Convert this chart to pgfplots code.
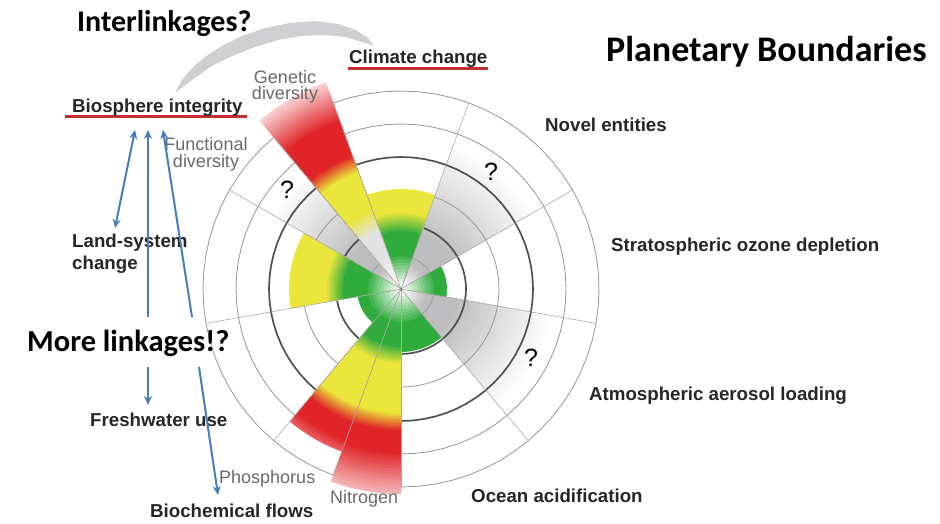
\documentclass[border=0pt]{standalone}
\usepackage{fontspec}
\setmainfont{Liberation Sans}
\newfontfamily\calfont{Carlito}
\usepackage{pgfplots}
\pgfplotsset{compat=1.18}
\usetikzlibrary{arrows.meta}

\definecolor{pbG}{RGB}{48,172,62}
\definecolor{pbY}{RGB}{234,230,60}
\definecolor{pbR}{RGB}{224,36,40}
\definecolor{pbGr}{RGB}{190,190,192}
\colorlet{pbGrL}{pbGr!45!white}
\colorlet{pbRL}{pbR!75!white}
\colorlet{pbRf}{pbR!35!white}
\colorlet{pbRg}{pbR!22!white}
\definecolor{circL}{RGB}{150,150,150}
\definecolor{circD}{RGB}{80,80,80}
\definecolor{spoke}{RGB}{170,170,170}
\definecolor{lbl}{RGB}{38,38,38}
\definecolor{glbl}{RGB}{105,105,105}
\definecolor{ulred}{RGB}{196,48,48}
\definecolor{arrblue}{RGB}{72,125,188}
\definecolor{cresc}{RGB}{208,208,210}

% one filled sector (pie slice) from angle #1 to #2, radius #3, colour #4
\newcommand\pbsect[4]{%
  \gdef\pbcoords{(0,0)}%
  \foreach \j in {0,...,16}{%
    \pgfmathsetmacro\pbang{#1+(#2-#1)*\j/16}%
    \xdef\pbcoords{\pbcoords (\pbang,#3)}%
  }%
  \edef\pbtmp{\noexpand\addplot[data cs=polar, fill=#4, draw=none, forget plot] coordinates {\pbcoords};}%
  \pbtmp
}
% colour ramp between radii #3 (outer, colour #5) and #4 (inner, colour #6), #7 steps
\newcommand\pbgrad[7]{%
  \pgfplotsforeachungrouped \pbk in {0,...,#7}{%
    \pgfmathsetmacro\pbrr{#3-(#3-#4)*\pbk/#7}%
    \pgfmathtruncatemacro\pbpp{100*\pbk/#7}%
    \edef\pbcc{#6!\pbpp!#5}%
    \pbsect{#1}{#2}{\pbrr}{\pbcc}%
  }%
}
% grey "unknown" wedge
\newcommand\pbgrey[3]{%
  \pbgrad{#1}{#2}{#3}{112}{white}{pbGrL}{10}%
  \pbgrad{#1}{#2}{112}{60}{pbGrL}{pbGr}{10}%
  \pbgrad{#1}{#2}{28}{4}{pbGr}{white}{8}%
}
% circle of radius #1
\newcommand\pbring[2]{%
  \gdef\pbcoords{}%
  \foreach \j in {0,...,72}{%
    \pgfmathsetmacro\pbang{5*\j}%
    \xdef\pbcoords{\pbcoords (\pbang,#1)}%
  }%
  \edef\pbtmp{\noexpand\addplot[data cs=polar, #2, forget plot] coordinates {\pbcoords};}%
  \pbtmp
}

\begin{document}
\begin{tikzpicture}
\begin{axis}[
  width=940pt, height=524pt, scale only axis,
  xmin=-401, xmax=539, ymin=-235, ymax=289,
  hide axis, clip=false,
]
\addplot[draw=none, forget plot] coordinates {(-401,-235) (539,289)};

% grey wedges (novel entities, aerosols, functional diversity)
\pbgrey{30}{70}{155}
\pbgrey{-50}{-10}{155}
\pbgrey{130}{150}{150}

% grid circles
\pbring{33}{draw=circL, line width=0.6pt}
\pbring{65}{draw=circD, line width=1.7pt}
\pbring{98}{draw=circL, line width=0.8pt}
\pbring{132}{draw=circD, line width=1.7pt}
\pbring{165}{draw=circL, line width=0.8pt}
\pbring{198}{draw=circL, line width=0.8pt}

% Climate change
\pbsect{70}{110}{100}{pbY}
\pbgrad{70}{110}{78}{58}{pbY}{pbG}{8}
\pbgrad{70}{110}{36}{4}{pbG}{white}{10}
% Stratospheric ozone depletion
\pbsect{-10}{30}{46}{pbG}
\pbgrad{-10}{30}{36}{4}{pbG}{white}{10}
% Ocean acidification
\pbsect{-90}{-50}{63}{pbG}
\pbgrad{-90}{-50}{36}{4}{pbG}{white}{10}
% Nitrogen
\pbgrad{-110}{-90}{205}{165}{pbRf}{pbR}{14}
\pbgrad{-110}{-90}{143}{125}{pbR}{pbY}{8}
\pbgrad{-110}{-90}{76}{58}{pbY}{pbG}{8}
\pbgrad{-110}{-90}{36}{4}{pbG}{white}{10}
% Phosphorus
\pbgrad{-130}{-110}{173}{162}{pbRL}{pbR}{5}
\pbgrad{-130}{-110}{143}{125}{pbR}{pbY}{8}
\pbgrad{-130}{-110}{76}{58}{pbY}{pbG}{8}
\pbgrad{-130}{-110}{36}{4}{pbG}{white}{10}
% Freshwater use
\pbsect{-170}{-130}{44}{pbG}
\pbgrad{-170}{-130}{36}{4}{pbG}{white}{10}
% Land-system change
\pbsect{150}{190}{112}{pbY}
\pbgrad{150}{190}{76}{58}{pbY}{pbG}{8}
\pbgrad{150}{190}{36}{4}{pbG}{white}{10}
% Genetic diversity
\pbgrad{110}{130}{220}{180}{pbRg}{pbR}{14}
\pbgrad{110}{130}{143}{125}{pbR}{pbY}{8}
\pbgrad{110}{130}{86}{62}{pbY}{pbGrL}{8}
\pbgrad{110}{130}{40}{4}{pbGrL}{white}{6}

% spokes
\pgfplotsforeachungrouped \a in {70,30,-10,-50,-90,-110,-130,-170,150,130,110}{%
  \edef\pbtmp{\noexpand\addplot[data cs=polar, draw=spoke, line width=0.6pt, forget plot] coordinates {(\a,0) (\a,198)};}\pbtmp
}
\addplot[only marks, mark=*, mark size=1.2pt, color=gray, forget plot] coordinates {(0,0)};

% crescent "interlinkage" swoosh
\addplot[fill=cresc, draw=none, forget plot] coordinates {
 (-226,196) (-219,209) (-209,221) (-196,232) (-179,243) (-159,253) (-136,261)
 (-111,266) (-86,268) (-63,265) (-45,259) (-33,251) (-27,243)
 (-39,247) (-56,252) (-76,254) (-99,253) (-123,249) (-146,242) (-169,233)
 (-189,223) (-205,212) (-217,203) (-226,196)};

% underlines
\addplot[ulred, line width=3pt, forget plot] coordinates {(-336,172) (-154,172)};
\addplot[ulred, line width=3pt, forget plot] coordinates {(-53,220) (87,220)};

% labels
\node[anchor=base west, inner sep=0pt, font=\calfont\bfseries\fontsize{30}{32}\selectfont] at (axis cs:-324,257) {Interlinkages?};
\node[anchor=base west, inner sep=0pt, font=\calfont\bfseries\fontsize{36}{38}\selectfont] at (axis cs:205,227) {Planetary Boundaries};
\node[anchor=base west, inner sep=0pt, font=\calfont\bfseries\fontsize{30.5}{32}\selectfont] at (axis cs:-374,-63) {More linkages!?};

\begin{scope}[every node/.style={anchor=base west, inner sep=0pt, text=lbl, font=\bfseries\fontsize{18.7}{21}\selectfont}]
\node at (axis cs:-329,176) {Biosphere integrity};
\node at (axis cs:-52,225) {Climate change};
\node at (axis cs:144,157) {Novel entities};
\node at (axis cs:210,37) {Stratospheric ozone depletion};
\node at (axis cs:188,-112) {Atmospheric aerosol loading};
\node at (axis cs:70,-214) {Ocean acidification};
\node at (axis cs:-251,-229) {Biochemical flows};
\node at (axis cs:-311,-138) {Freshwater use};
\end{scope}
\node[anchor=north west, inner sep=0pt, align=left, text=lbl, font=\bfseries\fontsize{18.7}{22}\selectfont] at (axis cs:-329,55) {Land-system\\change};

\node[anchor=north, inner sep=0pt, align=center, text=glbl, font=\fontsize{18}{16.5}\selectfont] at (axis cs:-116,219) {Genetic\\diversity};
\node[anchor=north, inner sep=0pt, align=center, text=glbl, font=\fontsize{18}{17}\selectfont] at (axis cs:-195,152) {Functional\\diversity};
\node[anchor=base west, inner sep=0pt, text=glbl, font=\fontsize{18}{20}\selectfont] at (axis cs:-71,-215) {Nitrogen};
\node[anchor=base west, inner sep=0pt, text=glbl, font=\fontsize{18}{20}\selectfont] at (axis cs:-182,-195) {Phosphorus};

\node[inner sep=0pt, font=\fontsize{25}{27}\selectfont] at (axis cs:90,117) {?};
\node[inner sep=0pt, font=\fontsize{25}{27}\selectfont] at (axis cs:130,-69) {?};
\node[inner sep=0pt, font=\fontsize{25}{27}\selectfont] at (axis cs:-114,99) {?};

% blue linkage arrows
\addplot[arrblue, line width=2pt, arrows={Stealth[length=9pt,width=8pt]-Stealth[length=9pt,width=8pt]}, forget plot] coordinates {(-286,61) (-266,159)};
\addplot[arrblue, line width=2pt, arrows={-Stealth[length=9pt,width=8pt]}, forget plot] coordinates {(-253,-28) (-253,159)};
\addplot[arrblue, line width=2pt, arrows={-Stealth[length=9pt,width=8pt]}, forget plot] coordinates {(-253,-78) (-253,-116)};
\addplot[arrblue, line width=2pt, arrows={-Stealth[length=9pt,width=8pt]}, forget plot] coordinates {(-209,-28) (-238,159)};
\addplot[arrblue, line width=2pt, arrows={-Stealth[length=9pt,width=8pt]}, forget plot] coordinates {(-202,-78) (-183,-206)};
\end{axis}
\end{tikzpicture}
\end{document}
